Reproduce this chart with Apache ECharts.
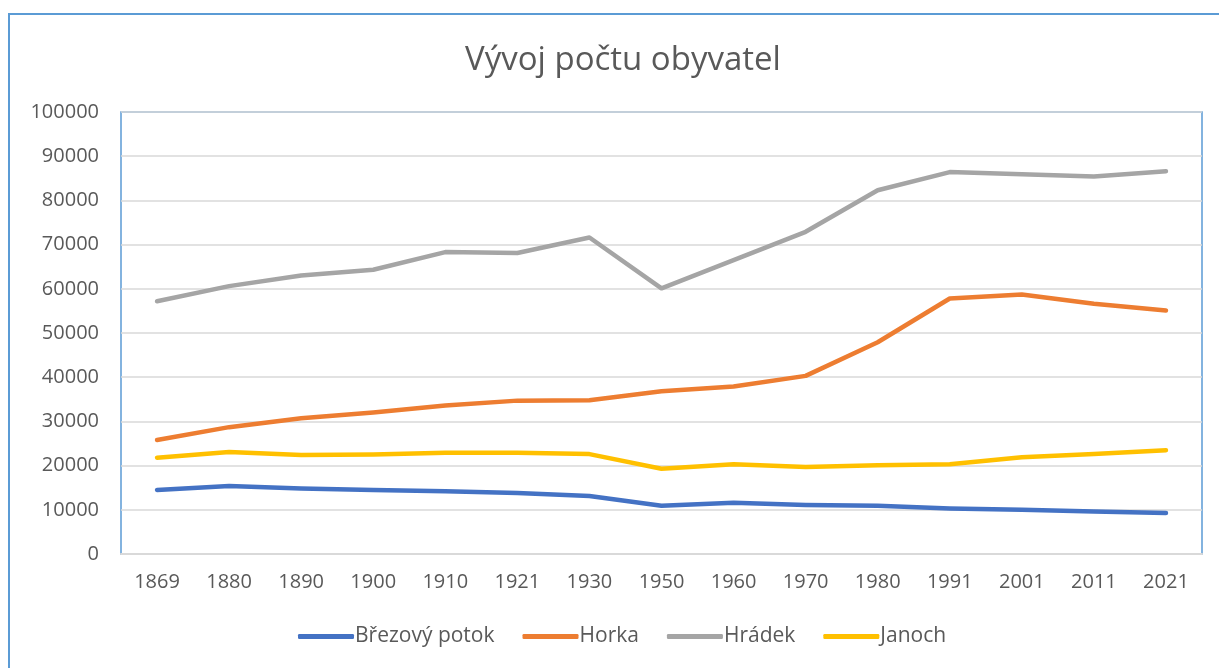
<!DOCTYPE html>
<html>
<head>
<meta charset="utf-8">
<title>Vývoj počtu obyvatel</title>
<script src="https://cdn.jsdelivr.net/npm/echarts@6/dist/echarts.min.js"></script>
<style>
  html, body { margin: 0; padding: 0; background: #fff; }
  #chart { width: 1219px; height: 668px; }
</style>
</head>
<body>
<div id="chart"></div>
<script>
// roky sčítání
var years = ['1869', '1880', '1890', '1900', '1910', '1921', '1930', '1950', '1960', '1970', '1980', '1991', '2001', '2011', '2021']
// počty obyvatel
var brezovyPotok = [14500, 15400, 14800, 14500, 14200, 13800, 13100, 10900, 11600, 11100, 10900, 10300, 10000, 9600, 9300]
var horka = [25800, 28700, 30700, 32000, 33600, 34700, 34800, 36800, 37900, 40300, 47900, 57800, 58700, 56600, 55100]
var hradek = [57200, 60600, 63000, 64300, 68300, 68100, 71600, 60100, 66500, 72900, 82300, 86400, 85900, 85400, 86600]
var janoch = [21800, 23100, 22400, 22500, 22900, 22900, 22600, 19300, 20300, 19700, 20100, 20300, 21900, 22600, 23500]
var yTicks = [0, 100000, 10000] // min, max, krok

var chart = echarts.init(document.getElementById('chart'))
var font = 'Open Sans'
var textColor = '#595959'

function lineSeries (name, data, color) {
  return {
    name: name,
    type: 'line',
    data: data,
    symbol: 'none',
    lineStyle: { color: color, width: 4.5, cap: 'round', join: 'round' },
    itemStyle: { color: color }
  }
}

chart.setOption({
  animation: false,
  graphic: [{
    type: 'rect',
    shape: { x: 9, y: 14, width: 1240, height: 700 },
    style: { fill: 'none', stroke: '#5b9bd5', lineWidth: 2 }
  }],
  title: {
    text: 'Vývoj počtu obyvatel',
    left: 460,
    top: 39,
    textStyle: { fontFamily: font, fontSize: 33, fontWeight: 'normal', color: textColor }
  },
  legend: {
    bottom: 16,
    left: 293,
    itemWidth: 56,
    itemHeight: 5,
    itemGap: 28,
    icon: 'roundRect',
    textStyle: { fontFamily: font, fontSize: 21, color: textColor, padding: [0, 0, 0, -4] },
    data: ['Březový potok', 'Horka', 'Hrádek', 'Janoch']
  },
  grid: {
    left: 121,
    right: 17,
    top: 112,
    bottom: 114,
    show: true,
    borderColor: '#5b9bd5',
    borderWidth: 1.5
  },
  xAxis: {
    type: 'category',
    data: years,
    boundaryGap: true,
    axisLine: { lineStyle: { color: '#d9d9d9', width: 2 } },
    axisTick: { show: false },
    axisLabel: { fontFamily: font, fontSize: 20, color: textColor, margin: 18 }
  },
  yAxis: {
    type: 'value',
    min: yTicks[0],
    max: yTicks[1],
    interval: yTicks[2],
    axisLine: { show: false },
    axisTick: { show: false },
    splitLine: { lineStyle: { color: '#d9d9d9', width: 1.5 } },
    axisLabel: {
      fontFamily: font,
      fontSize: 20,
      color: textColor,
      margin: 22,
      formatter: function (v) { return String(v) }
    }
  },
  series: [
    lineSeries('Březový potok', brezovyPotok, '#4472c4'),
    lineSeries('Horka', horka, '#ed7d31'),
    lineSeries('Hrádek', hradek, '#a5a5a5'),
    lineSeries('Janoch', janoch, '#ffc000')
  ]
})
window.addEventListener('resize', function () {
  chart.resize()
})
</script>
</body>
</html>
